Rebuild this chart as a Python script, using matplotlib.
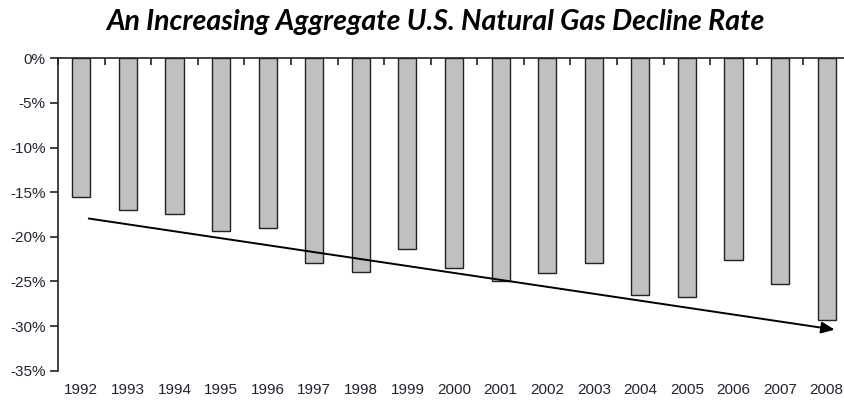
import matplotlib
matplotlib.use("Agg")
import matplotlib.pyplot as plt
import numpy as np

years = ["1992", "1993", "1994", "1995", "1996", "1997", "1998", "1999", "2000",
         "2001", "2002", "2003", "2004", "2005", "2006", "2007", "2008"]
decline = [-15.5, -17.0, -17.4, -19.3, -19.0, -22.9, -23.9, -21.4, -23.5,
           -25.0, -24.1, -22.9, -26.5, -26.7, -22.6, -25.3, -29.3]
trend_x = [0.16, 16.17]
trend_y = [-17.95, -30.4]
yticks = [0, -5, -10, -15, -20, -25, -30, -35]

fig = plt.figure(figsize=(8.45, 4.0), dpi=100)
ax = fig.add_axes([58/845, 29.3/400, 792/845, 312.4/400])
x = np.arange(len(years))
ax.bar(x, decline, width=0.39, color="#c0c0c0", edgecolor="#222222", linewidth=1.0, zorder=2)

ax.annotate("", xy=(trend_x[1], trend_y[1]), xytext=(trend_x[0], trend_y[0]),
            arrowprops=dict(arrowstyle="-|>,head_length=0.8,head_width=0.35", color="black", lw=1.4,
                            shrinkA=0, shrinkB=0), zorder=3)

ax.set_xlim(-0.5, len(years) - 0.5)
ax.set_ylim(-35, 0)
ax.set_yticks(yticks)
ax.set_yticklabels([f"{v}%" for v in yticks], fontsize=11, color="#222233", family="Liberation Sans")
ax.set_xticks(x)
ax.set_xticklabels(years, fontsize=11, color="#222233", family="Liberation Sans")
ax.tick_params(axis="x", which="major", length=0, pad=9)
ax.set_xticks(np.arange(-0.5, len(years)), minor=True)
ax.tick_params(axis="x", which="minor", bottom=False, top=True, direction="in", length=5, width=1.2, color="#222222")
ax.tick_params(axis="y", length=6, width=1.2, color="#222222", pad=3)
for s in ["right", "bottom"]:
    ax.spines[s].set_visible(False)
for s in ["top", "left"]:
    ax.spines[s].set_linewidth(1.2)
    ax.spines[s].set_color("#222222")

fig.text(0.515, 0.945, "An Increasing Aggregate U.S. Natural Gas Decline Rate",
         ha="center", va="center", fontsize=20.5, fontweight="bold", fontstyle="italic", family="Lato")

fig.savefig("out.png", dpi=100)
